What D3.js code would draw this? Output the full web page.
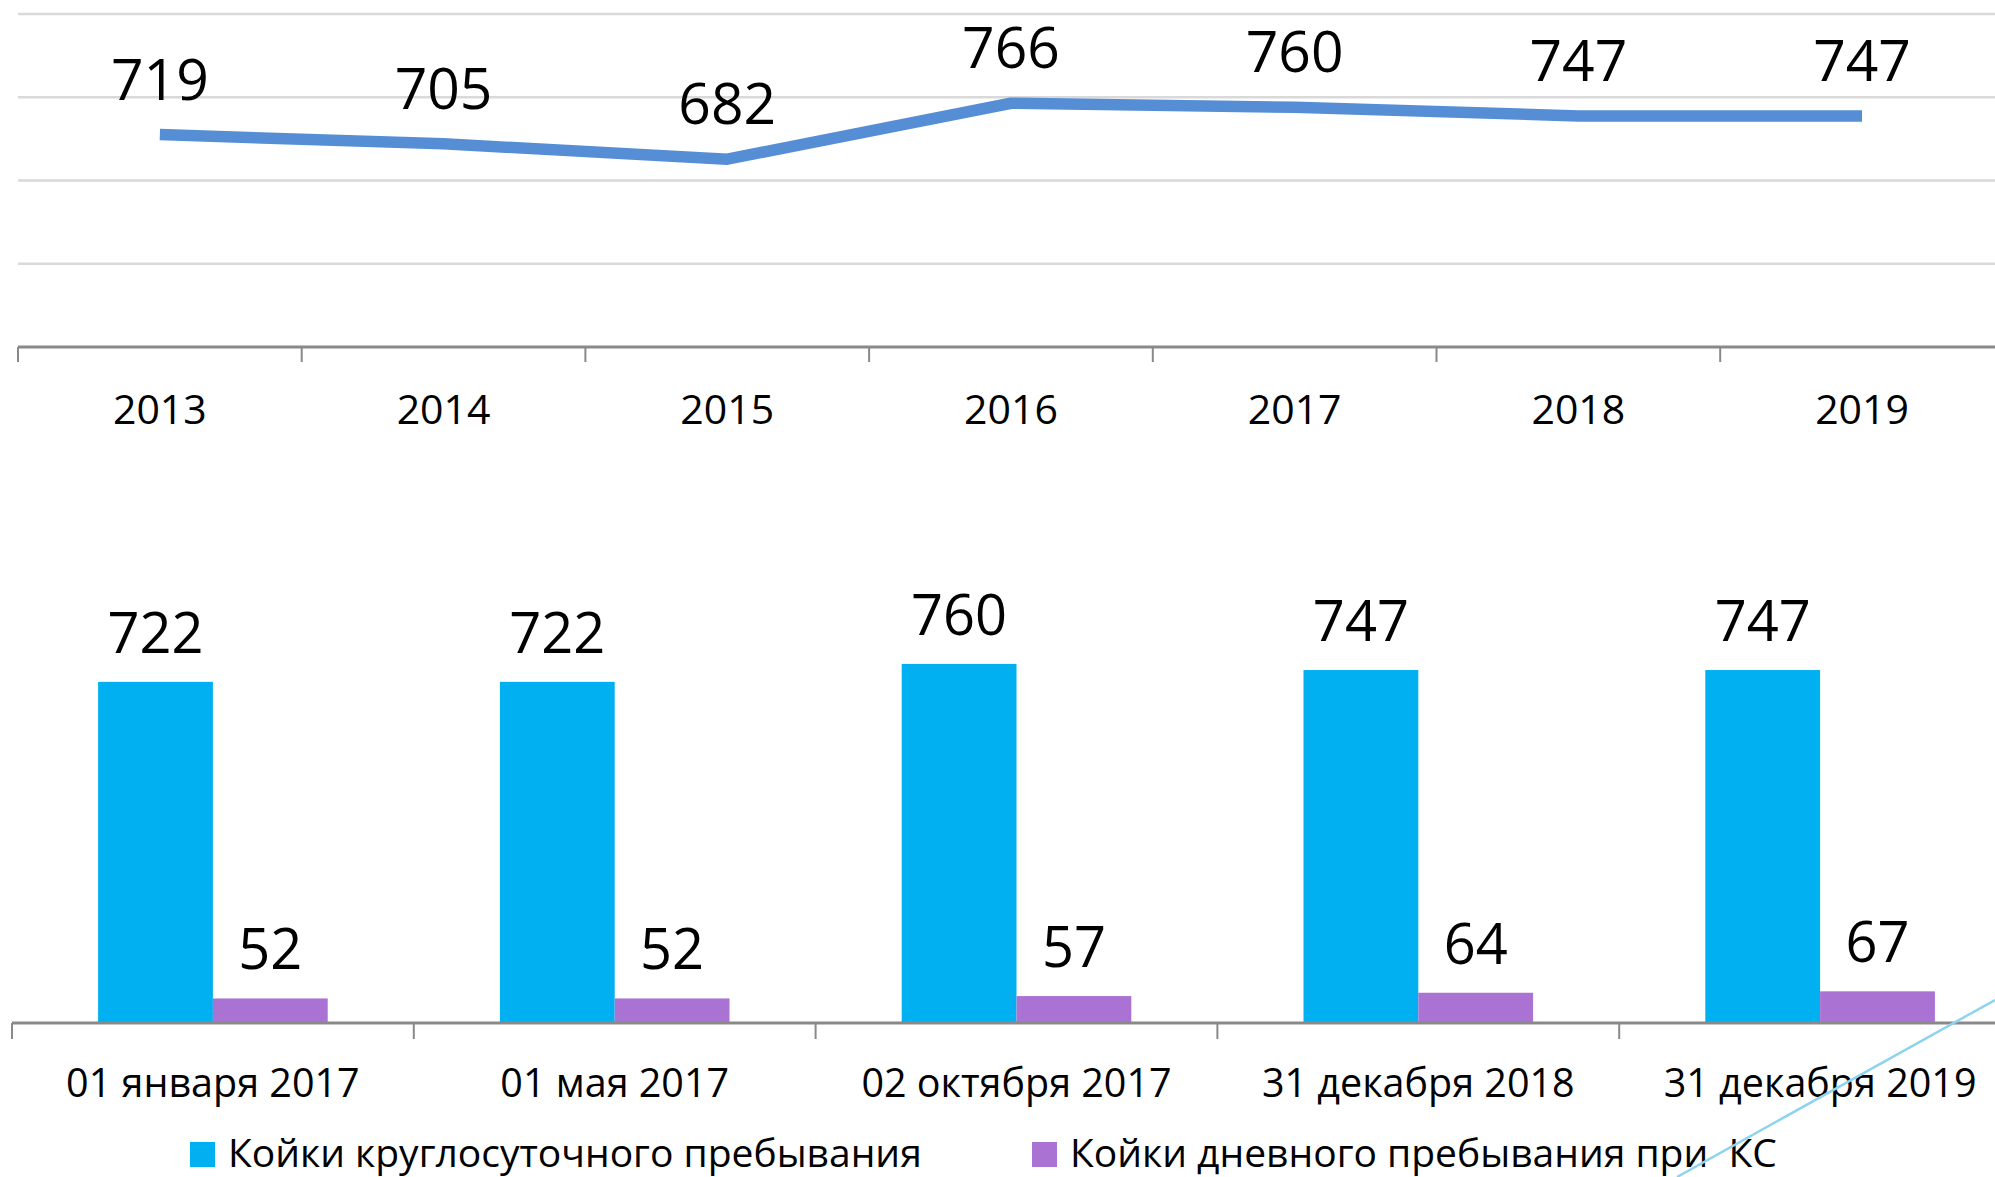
<!DOCTYPE html>
<html>
<head>
<meta charset="utf-8">
<script src="https://cdn.jsdelivr.net/npm/d3@7"></script>
<style>
  body { margin: 0; background: #fff; }
  svg { display: block; font-family: 'Open Sans', sans-serif; }
</style>
</head>
<body>
<svg id="chart" width="1995" height="1177"></svg>
<script>
// top chart: beds per year
const years = ['2013', '2014', '2015', '2016', '2017', '2018', '2019'];
const bedsByYear = [719, 705, 682, 766, 760, 747, 747];
const gridValues = [525, 650, 775, 900];

// bottom chart: beds by date
const dates = ['01 января 2017', '01 мая 2017', '02 октября 2017', '31 декабря 2018', '31 декабря 2019'];
const roundClock = [722, 722, 760, 747, 747];
const dayStay = [52, 52, 57, 64, 67];
const seriesNames = ['Койки круглосуточного пребывания', 'Койки дневного пребывания при  КС'];

const colors = ['#00b0f0', '#aa73d3'];
const axisColor = '#898989';

const svg = d3.select('#chart');

// ---- line chart ----
const x1 = d3.scaleBand().domain(years).range([18, 18 + 7 * 283.7]);
const y1 = d3.scaleLinear().domain([400, 900]).range([347, 14]);
const cx1 = (d) => x1(d) + x1.bandwidth() / 2;

svg
  .selectAll('line.grid')
  .data(gridValues)
  .enter()
  .append('line')
  .attr('class', 'grid')
  .attr('x1', 18)
  .attr('x2', 1995)
  .attr('y1', (d) => y1(d))
  .attr('y2', (d) => y1(d))
  .attr('stroke', '#d9d9d9')
  .attr('stroke-width', 2.5);

const yearAxis = svg
  .append('g')
  .attr('transform', `translate(0,${y1(400)})`)
  .call(d3.axisBottom(x1).tickSize(0).tickSizeOuter(0));
yearAxis.select('.domain').remove();
yearAxis
  .selectAll('text')
  .attr('y', 77)
  .attr('dy', null)
  .attr('font-size', 41)
  .attr('font-family', 'Open Sans')
  .attr('fill', '#000');

svg
  .append('line')
  .attr('x1', 18)
  .attr('x2', 1995)
  .attr('y1', y1(400))
  .attr('y2', y1(400))
  .attr('stroke', axisColor)
  .attr('stroke-width', 3);

svg
  .selectAll('line.tick1')
  .data(years)
  .enter()
  .append('line')
  .attr('class', 'tick1')
  .attr('x1', (d) => x1(d))
  .attr('x2', (d) => x1(d))
  .attr('y1', y1(400))
  .attr('y2', y1(400) + 15)
  .attr('stroke', axisColor)
  .attr('stroke-width', 2);

const line = d3
  .line()
  .x((d, i) => cx1(years[i]))
  .y((d) => y1(d));

svg
  .append('path')
  .datum(bedsByYear)
  .attr('d', line)
  .attr('fill', 'none')
  .attr('stroke', '#558ed5')
  .attr('stroke-width', 11.5)
  .attr('stroke-linejoin', 'round');

svg
  .selectAll('text.lbl1')
  .data(bedsByYear)
  .enter()
  .append('text')
  .attr('class', 'lbl1')
  .attr('x', (d, i) => cx1(years[i]))
  .attr('y', (d) => y1(d) - 35)
  .attr('text-anchor', 'middle')
  .attr('font-size', 57)
  .text((d) => d);

// ---- bar chart ----
const x2 = d3.scaleBand().domain(dates).range([12, 12 + 5 * 401.8]);
const groupW = x2.bandwidth() / 1.75;
const xs = d3.scaleBand().domain([0, 1]).range([0, groupW]);
const y2 = d3.scaleLinear().domain([0, 800]).range([1023, 1023 - 800 * 0.4725]);

const rows = dates.map((d, i) => [
  { date: d, k: 0, v: roundClock[i] },
  { date: d, k: 1, v: dayStay[i] },
]).flat();
const barX = (d) => x2(d.date) + (x2.bandwidth() - groupW) / 2 + xs(d.k);

svg
  .selectAll('rect.bar')
  .data(rows)
  .enter()
  .append('rect')
  .attr('class', 'bar')
  .attr('x', barX)
  .attr('width', xs.bandwidth())
  .attr('y', (d) => y2(d.v))
  .attr('height', (d) => y2(0) - y2(d.v))
  .attr('fill', (d) => colors[d.k]);

svg
  .selectAll('text.lbl2')
  .data(rows)
  .enter()
  .append('text')
  .attr('class', 'lbl2')
  .attr('x', (d) => barX(d) + xs.bandwidth() / 2)
  .attr('y', (d) => y2(d.v) - 29)
  .attr('text-anchor', 'middle')
  .attr('font-size', 56)
  .text((d) => d.v);

const dateAxis = svg
  .append('g')
  .attr('transform', `translate(0,${y2(0)})`)
  .call(d3.axisBottom(x2).tickSize(0).tickSizeOuter(0));
dateAxis.select('.domain').remove();
dateAxis
  .selectAll('text')
  .attr('y', 74)
  .attr('dy', null)
  .attr('font-size', 39.5)
  .attr('font-family', 'Open Sans')
  .attr('fill', '#000');

svg
  .append('line')
  .attr('x1', 12)
  .attr('x2', 1995)
  .attr('y1', y2(0))
  .attr('y2', y2(0))
  .attr('stroke', axisColor)
  .attr('stroke-width', 3);

svg
  .selectAll('line.tick2')
  .data(dates)
  .enter()
  .append('line')
  .attr('class', 'tick2')
  .attr('x1', (d) => x2(d))
  .attr('x2', (d) => x2(d))
  .attr('y1', y2(0))
  .attr('y2', y2(0) + 16)
  .attr('stroke', axisColor)
  .attr('stroke-width', 2);

// legend
const legendX = [190, 1032];
const legend = svg
  .selectAll('g.legend')
  .data(seriesNames)
  .enter()
  .append('g')
  .attr('class', 'legend')
  .attr('transform', (d, i) => `translate(${legendX[i]},1142)`);
legend
  .append('rect')
  .attr('width', 25)
  .attr('height', 25)
  .attr('fill', (d, i) => colors[i]);
legend
  .append('text')
  .attr('x', 38)
  .attr('y', 25)
  .attr('font-size', 39)
  .style('white-space', 'pre')
  .text((d) => d);

// stray connector from a neighbouring slide object
svg
  .append('line')
  .attr('x1', 1677)
  .attr('y1', 1177)
  .attr('x2', 1995)
  .attr('y2', 1000)
  .attr('stroke', '#8ed3f0')
  .attr('stroke-width', 2.5);
</script>
</body>
</html>
